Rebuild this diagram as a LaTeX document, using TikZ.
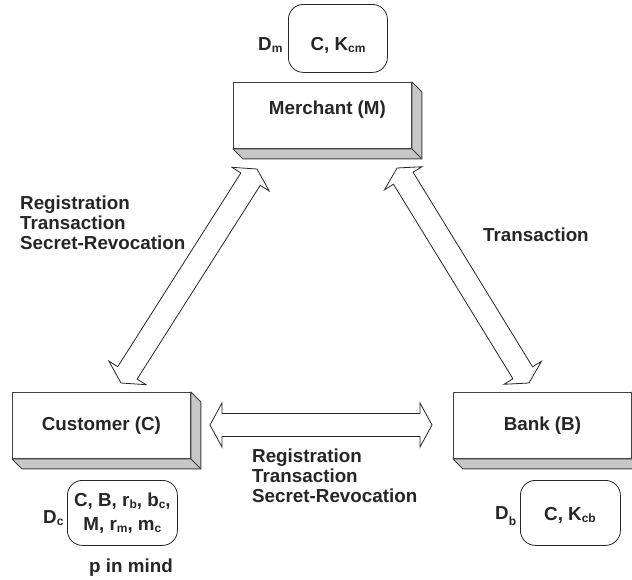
\documentclass[tikz,border=0pt]{standalone}
\usepackage{fontspec}
\setmainfont{Liberation Sans}
\usetikzlibrary{calc}

\newcommand{\sbs}[2][2pt]{\raisebox{-#1}{\fontsize{12}{12}\selectfont #2}}
\newcommand{\boxdepth}[1]{%
  \draw[sideface] (#1.north east) -- ++(10,10) |- ($(#1.south west)+(10,10)$) -- (#1.south west) -- (#1.south east) -- cycle;
  \draw[sideface] (#1.south east) -- ++(10,10);}
\newcommand{\hollowarrow}[2]{%
  \coordinate (ha-p) at ($(#1)!12pt!(#2)$);
  \coordinate (ha-q) at ($(#2)!12pt!(#1)$);
  \draw[blockarrow] (#1) -- ($(ha-p)!22pt!90:(#2)$) -- ($(ha-p)!11.5pt!90:(#2)$)
    -- ($(ha-q)!11.5pt!-90:(#1)$) -- ($(ha-q)!22pt!-90:(#1)$) -- (#2)
    -- ($(ha-q)!22pt!90:(#1)$) -- ($(ha-q)!11.5pt!90:(#1)$)
    -- ($(ha-p)!11.5pt!-90:(#2)$) -- ($(ha-p)!22pt!-90:(#2)$) -- cycle;}

\begin{document}
\begin{tikzpicture}[x=1pt,y=-1pt,
  every node/.style={font=\fontsize{18.8}{20}\selectfont\bfseries, text=black!85, inner sep=0pt},
  front/.style={draw=black!75, fill=white, line width=0.9pt, minimum width=178pt, minimum height=66pt, anchor=north west},
  sideface/.style={draw=black!75, fill=black!22, line width=0.9pt, line join=round},
  store/.style={draw=black!85, line width=0.8pt, rounded corners=15pt, anchor=north west},
  blockarrow/.style={draw=black!85, fill=white, line width=0.8pt, line join=miter},
  lbl/.style={anchor=north west, align=left}
]
\clip (0,0) rectangle (632,579);
\fill[white] (0,0) rectangle (632,579);

% 3D boxes
\node[front] (merchant) at (233,82) {};
\boxdepth{merchant}
\node (mtext) at ($(merchant.center)+(5,-6)$) {Merchant (M)};

\node[front] (customer) at (12,392) {Customer (C)};
\boxdepth{customer}

\node[front] (bank) at (453,392) {Bank (B)};
\boxdepth{bank}

% data stores
\node[store, minimum width=99pt, minimum height=68pt] (dm) at (288,4) {};
\node[anchor=base west] (dmlbl) at (258,50) {D\sbs{m}};
\node[anchor=base] (dmtxt) at (338,50) {C, K\sbs{cm}};

\node[store, minimum width=110pt, minimum height=65pt, align=center,
      font=\fontsize{18.8}{24}\selectfont\bfseries] (dc) at (67,480)
      {C, B, r\sbs{b}, b\sbs{c},\\M, r\sbs{m}, m\sbs{c}};
\node[anchor=base west] (dclbl) at (43,523) {D\sbs{c}};
\node[anchor=base] (mind) at (131,572) {p in mind};

\node[store, minimum width=100pt, minimum height=65pt] (db) at (520,480) {};
\node[anchor=base west] (dblbl) at (495,519) {D\sbs[6pt]{b}};
\node[anchor=base] (dbtxt) at (570,520) {C, K\sbs{cb}};

% hollow double arrows
\coordinate (L1) at (121,383);
\coordinate (L2) at (257,169);
\coordinate (R1) at (397,168);
\coordinate (R2) at (529,383);
\coordinate (H1) at (210,425);
\coordinate (H2) at (432,425);
\hollowarrow{L1}{L2}
\hollowarrow{R1}{R2}
\hollowarrow{H1}{H2}

% labels
\node[lbl] (lefttxt) at (20,196) {Registration\\Transaction\\Secret-Revocation};
\node[anchor=base west] (righttxt) at (483,241) {Transaction};
\node[lbl] (bottxt) at (252,449) {Registration\\Transaction\\Secret-Revocation};
\end{tikzpicture}
\end{document}
